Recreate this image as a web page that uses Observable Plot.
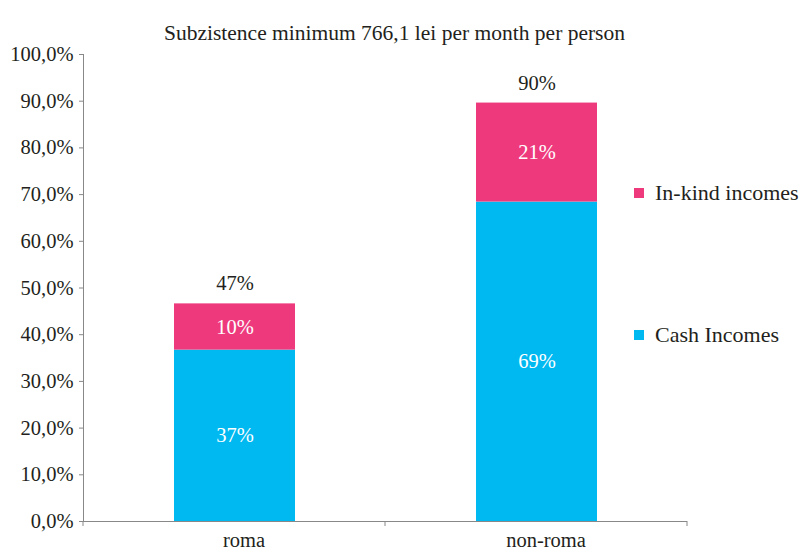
<!DOCTYPE html>
<html>
<head>
<meta charset="utf-8">
<script src="https://cdn.jsdelivr.net/npm/d3@7"></script>
<script src="https://cdn.jsdelivr.net/npm/@observablehq/plot@0.6"></script>
<style>
  html, body { margin: 0; padding: 0; background: #fff; }
  #wrap { position: relative; width: 803px; height: 553px; font-family: "Liberation Serif", "DejaVu Serif", serif; color: #231f20; }
  #wrap svg, #wrap svg text { font-family: "Liberation Serif", "DejaVu Serif", serif !important; }
  .leg { position: absolute; font-size: 22px; display: flex; align-items: center; white-space: nowrap; font-family: "Liberation Serif", "DejaVu Serif", serif; }
  .sw { width: 10px; height: 10px; margin-right: 11px; }
</style>
</head>
<body>
<div id="wrap"></div>
<script>
const categories = ["roma", "non-roma"];
const seriesNames = ["Cash Incomes", "In-kind incomes"];
const cashValues = [36.7, 68.4];
const inKindValues = [9.9, 21.2];
const cashLabels = ["37%", "69%"];
const inKindLabels = ["10%", "21%"];
const totalLabels = ["47%", "90%"];
const yTicks = [0, 10, 20, 30, 40, 50, 60, 70, 80, 90, 100];
const colors = ["#00b9f1", "#ee3a7d"];
const title = "Subzistence minimum 766,1 lei per month per person";

const rows = [];
categories.forEach((c, i) => {
  rows.push({cat: c, series: seriesNames[0], value: cashValues[i], label: cashLabels[i]});
  rows.push({cat: c, series: seriesNames[1], value: inKindValues[i], label: inKindLabels[i]});
});
const totals = categories.map((c, i) => ({cat: c, total: cashValues[i] + inKindValues[i], label: totalLabels[i]}));

const chart = Plot.plot({
  width: 803,
  height: 553,
  marginLeft: 83,
  marginRight: 116,
  marginTop: 54,
  marginBottom: 32,
  style: {fontFamily: "'Liberation Serif', serif", fontSize: "20px", color: "#231f20", background: "#fff"},
  x: {domain: categories, paddingInner: 0.6, paddingOuter: 0.3, label: null},
  y: {domain: [0, 100], label: null},
  color: {domain: seriesNames, range: colors},
  marks: [
    Plot.barY(rows, Plot.stackY({x: "cat", y: "value", fill: "series", order: seriesNames})),
    Plot.text(rows, Plot.stackY({x: "cat", y: "value", z: "series", order: seriesNames, text: "label", fill: "white", fontSize: 20.5})),
    Plot.text(totals, {x: "cat", y: "total", text: "label", dy: -20, fill: "#231f20", fontSize: 20.5}),
    Plot.axisY({ticks: yTicks, tickSize: 4, tickPadding: 6, tickFormat: d => d.toFixed(1).replace(".", ",") + "%", stroke: "#888", fill: "#231f20", fontSize: 20.5}),
    Plot.axisX({tickSize: 0, tickPadding: 11, dx: 9, fill: "#231f20", fontSize: 20.5}),
    Plot.ruleY([0], {stroke: "#888"}),
    Plot.frame({anchor: "left", stroke: "#888"}),
    Plot.text([title], {frameAnchor: "top", text: d => d, dy: -30, dx: 9, fill: "#231f20", fontSize: 21.5})
  ]
});

// band boundary ticks on the x axis
const xs = chart.scale("x");
const ys = chart.scale("y");
const step = xs.step;
const left = xs.range[0];
const y0 = ys.apply(0);
const svg = d3.select(chart);
svg.attr("font-family", "Liberation Serif, serif");
for (let k = 0; k <= categories.length; k++) {
  const xx = left + k * step;
  svg.append("line").attr("x1", xx).attr("x2", xx).attr("y1", y0).attr("y2", y0 + 5).attr("stroke", "#888");
}

const wrap = document.getElementById("wrap");
wrap.appendChild(chart);

// legend
const legendY = [70.1, 39.7];
[[1, legendY[0]], [0, legendY[1]]].forEach(([si, v]) => {
  const d = document.createElement("div");
  d.className = "leg";
  d.style.left = "634px";
  d.style.top = (ys.apply(v) - 14) + "px";
  d.innerHTML = `<span class="sw" style="background:${colors[si]}"></span><span>${seriesNames[si]}</span>`;
  wrap.appendChild(d);
});
</script>
</body>
</html>
